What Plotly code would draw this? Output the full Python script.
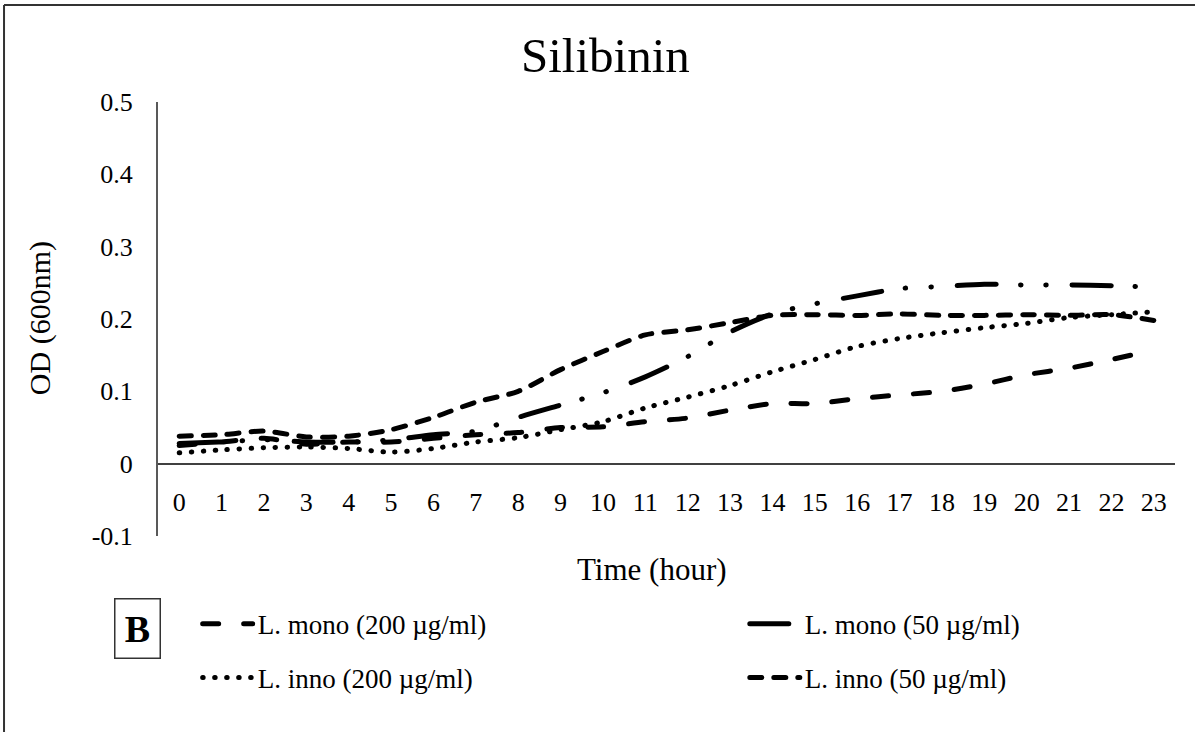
import plotly.graph_objects as go

# Optical density (600 nm) readings, hourly, under silibinin treatment
hours = list(range(24))
hour_labels = [str(h) for h in hours]

mono_200 = [0.025, 0.030, 0.035, 0.027, 0.030, 0.030, 0.035, 0.040, 0.043, 0.050,
            0.051, 0.058, 0.063, 0.074, 0.083, 0.083, 0.090, 0.095, 0.100, 0.110,
            0.123, 0.132, 0.144, 0.157]
mono_50 = [0.028, 0.030, 0.033, 0.030, 0.030, 0.033, 0.040, 0.045, 0.064, 0.081,
           0.098, 0.120, 0.148, 0.182, 0.207, 0.221, 0.232, 0.242, 0.245, 0.248,
           0.247, 0.247, 0.246, 0.244]
inno_200 = [0.015, 0.019, 0.022, 0.023, 0.021, 0.016, 0.021, 0.030, 0.036, 0.047,
            0.058, 0.077, 0.092, 0.108, 0.127, 0.144, 0.162, 0.173, 0.181, 0.188,
            0.194, 0.202, 0.206, 0.210]
inno_50 = [0.038, 0.040, 0.045, 0.037, 0.038, 0.047, 0.064, 0.085, 0.100, 0.130,
           0.155, 0.178, 0.185, 0.195, 0.205, 0.206, 0.205, 0.207, 0.205, 0.205,
           0.206, 0.205, 0.206, 0.198]

y_ticks = [-0.1, 0, 0.1, 0.2, 0.3, 0.4, 0.5]
y_tick_text = ["-0.1", "0", "0.1", "0.2", "0.3", "0.4", "0.5"]

series_names = ["L. mono (200 µg/ml)", "L. mono (50 µg/ml)",
                "L. inno (200 µg/ml)", "L. inno (50 µg/ml)"]
series_values = [mono_200, mono_50, inno_200, inno_50]
series_dash = ["16px,25px",
               "39px,24px,0.5px,25px,0.5px,26px",
               "0.5px,11.5px",
               "12px,12px"]

SERIF = "Liberation Serif, Times New Roman, serif"

fig = go.Figure()
for i, (name, vals, dash) in enumerate(zip(series_names, series_values, series_dash)):
    fig.add_trace(go.Scatter(
        x=hours, y=vals, name=name, mode="lines",
        line=dict(color="black", width=5, dash=dash, shape="spline", smoothing=0.8),
        legend="legend" if i == 0 else f"legend{i + 1}",
    ))

legend_common = dict(font=dict(family=SERIF, size=27, color="black"),
                     bgcolor="rgba(0,0,0,0)", itemwidth=50,
                     xanchor="left", yanchor="middle")
legend_pos = [(0.039, -0.203), (0.577, -0.203), (0.039, -0.327), (0.577, -0.327)]
legend_keys = ["legend", "legend2", "legend3", "legend4"]
legend_layout = {k: dict(legend_common, x=px, y=py) for k, (px, py) in zip(legend_keys, legend_pos)}

fig.update_layout(
    width=1195, height=732,
    margin=dict(l=158, r=20, t=102, b=196),
    paper_bgcolor="white", plot_bgcolor="white",
    showlegend=True,
    font=dict(family=SERIF, size=26, color="black"),
    xaxis=dict(
        range=[-0.5, 23.5], tickvals=hours, ticktext=hour_labels,
        showgrid=False, zeroline=False,
        showline=True, linecolor="#404040", linewidth=2,
        anchor="free", position=1 / 6,
        ticks="", ticklabelstandoff=15,
        tickfont=dict(family=SERIF, size=26, color="black"),
    ),
    yaxis=dict(
        range=[-0.1, 0.5], tickvals=y_ticks, ticktext=y_tick_text,
        showgrid=False, zeroline=False,
        showline=True, linecolor="#595959", linewidth=2,
        ticks="", ticklabelstandoff=18,
        tickfont=dict(family=SERIF, size=26, color="black"),
    ),
    annotations=[
        dict(text="Silibinin", x=0.4405, y=1.108, xref="paper", yref="paper",
             showarrow=False, font=dict(family=SERIF, size=49, color="black"),
             xanchor="center", yanchor="middle"),
        dict(text="Time (hour)", x=0.4857, y=-0.0783, xref="paper", yref="paper",
             showarrow=False, font=dict(family=SERIF, size=31, color="black"),
             xanchor="center", yanchor="middle"),
        dict(text="OD (600nm)", x=-0.116, y=0.502, xref="paper", yref="paper",
             showarrow=False, textangle=-90,
             font=dict(family=SERIF, size=30, color="black"),
             xanchor="center", yanchor="middle"),
        dict(text="<b>B</b>", x=-0.0206, y=-0.212, xref="paper", yref="paper",
             showarrow=False, font=dict(family=SERIF, size=38, color="black"),
             xanchor="center", yanchor="middle",
             bordercolor="#333", borderwidth=1.5, width=42, height=56),
    ],
    shapes=[
        dict(type="line", xref="paper", yref="paper",
             x0=-0.1514, x1=-0.1514, y0=-0.46, y1=1.2235,
             line=dict(color="#333", width=2)),
        dict(type="line", xref="paper", yref="paper",
             x0=-0.1514, x1=1.03, y0=1.2235, y1=1.2235,
             line=dict(color="#333", width=2)),
    ],
    **legend_layout,
)

# round line caps so the dotted patterns draw as round dots
round_caps = ("var s=document.createElement('style');"
              "s.textContent='.js-line{stroke-linecap:round;}';"
              "document.head.appendChild(s);")

fig.write_html("out.html", post_script=round_caps)
